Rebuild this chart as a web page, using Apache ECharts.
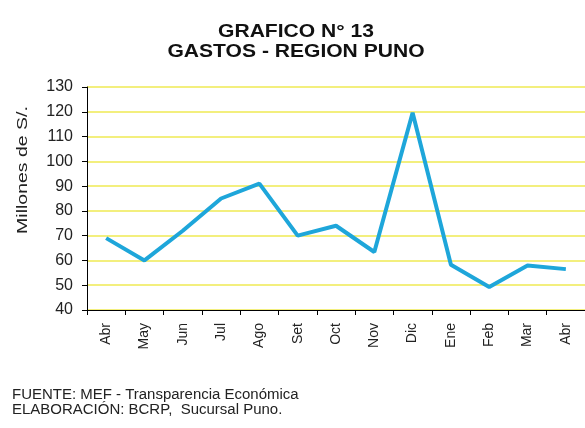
<!DOCTYPE html>
<html lang="es">
<head>
    <meta charset="UTF-8"/>
    <script src="https://cdn.jsdelivr.net/npm/echarts@6/dist/echarts.min.js"></script>
    <title>Gastos - Region Puno</title>
    <style>
        html, body { margin: 0; padding: 0; background: #fff; }
        #chart { width: 585px; height: 428px; }
    </style>
</head>
<body>
<div id="chart"></div>
<script type="text/javascript">
    // meses (Abr a Abr)
    var meses = ['Abr', 'May', 'Jun', 'Jul', 'Ago', 'Set', 'Oct', 'Nov', 'Dic', 'Ene', 'Feb', 'Mar', 'Abr'];
    // gastos en millones de S/.
    var gastos = [69, 60, 72, 85, 91, 70, 74, 63.4, 119.6, 58.3, 49.3, 58, 56.5];
    var yMin = 40, yMax = 130, yPaso = 10;

    var fuente = 'Liberation Sans, Arial, sans-serif';
    var myChart = echarts.init(document.getElementById('chart'));
    var option = {
        backgroundColor: '#fff',
        animation: false,
        graphic: [
            // titulo, un poco estirado como en el original
            {
                type: 'text',
                x: 296, y: 42,
                scaleX: 1.17,
                style: {
                    text: 'GRAFICO N° 13\nGASTOS - REGION PUNO',
                    font: 'bold 18px ' + fuente,
                    fill: '#111',
                    align: 'center',
                    verticalAlign: 'middle',
                    lineHeight: 20
                }
            },
            {
                type: 'text',
                x: 23, y: 170,
                rotation: Math.PI / 2,
                scaleX: 1.3,
                style: {
                    text: 'Millones de S/.',
                    font: '15px ' + fuente,
                    fill: '#222',
                    align: 'center',
                    verticalAlign: 'middle'
                }
            },
            {
                type: 'text',
                x: 12, y: 388,
                scaleX: 1.07,
                style: {
                    text: 'FUENTE: MEF - Transparencia Económica\nELABORACIÓN: BCRP,  Sucursal Puno.',
                    font: '14px ' + fuente,
                    fill: '#222',
                    lineHeight: 15
                }
            }
        ],
        grid: {
            left: 87,
            top: 87,
            right: -4,
            height: 223
        },
        xAxis: {
            type: 'category',
            data: meses,
            boundaryGap: true,
            axisLine: { lineStyle: { color: '#000', width: 1 } },
            axisTick: { show: true, length: 5, inside: false, lineStyle: { color: '#000' } },
            axisLabel: {
                rotate: 90,
                margin: 13,
                color: '#222',
                fontFamily: fuente,
                fontSize: 14
            },
            splitLine: { show: false }
        },
        yAxis: {
            type: 'value',
            min: yMin,
            max: yMax,
            interval: yPaso,
            axisLine: { show: true, lineStyle: { color: '#000', width: 1 } },
            axisTick: { show: true, length: 5, lineStyle: { color: '#000' } },
            axisLabel: {
                margin: 14,
                color: '#222',
                fontFamily: fuente,
                fontSize: 16
            },
            splitLine: { show: true, lineStyle: { color: '#f3ef7e', width: 2 } }
        },
        series: [
            {
                name: 'Gastos',
                type: 'line',
                data: gastos,
                symbol: 'none',
                lineStyle: { color: '#1ea6da', width: 4 },
                itemStyle: { color: '#1ea6da' }
            }
        ]
    };
    myChart.setOption(option);
</script>
</body>
</html>
